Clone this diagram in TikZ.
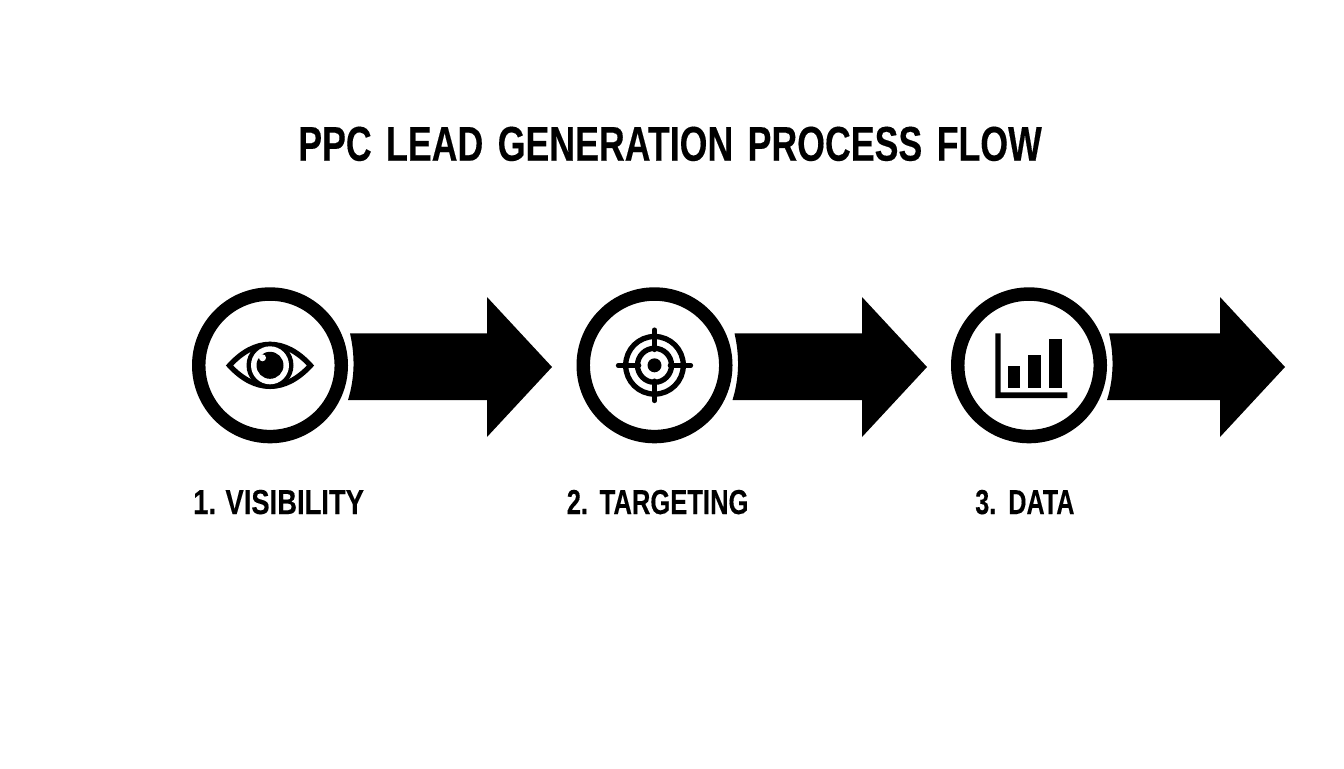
\documentclass[tikz,border=0pt]{standalone}
\usepackage{fontspec}
\usetikzlibrary{calc}
\setmainfont{Liberation Sans}
\newfontfamily\ftitle[FakeStretch=0.732,WordSpace=1.45,FakeBold=0.25,UprightFont=* Bold]{Liberation Sans}
\newfontfamily\fone[FakeStretch=0.79,WordSpace=0.9,FakeBold=0.2,UprightFont=* Bold]{Liberation Sans}
\newfontfamily\ftwo[FakeStretch=0.738,WordSpace=1.3,FakeBold=0.2,UprightFont=* Bold]{Liberation Sans}
\newfontfamily\fthree[FakeStretch=0.725,WordSpace=1.4,FakeBold=0.2,UprightFont=* Bold]{Liberation Sans}
\tikzset{
  ring/.style={circle,draw=black,fill=white,line width=10.1pt,minimum size=106.9pt,inner sep=0pt},
  titletext/.style={anchor=base west,inner sep=0pt,text=black,font=\ftitle\fontsize{36.6pt}{40pt}\selectfont},
  steplabel/.style={anchor=base west,inner sep=0pt,text=black},
  labelsize/.style={font=#1\fontsize{26pt}{30pt}\selectfont},
  cross/.style={line width=3.5pt,line cap=round},
  hair/.style={draw=black,line width=4pt}
}
\newcommand{\bigarrow}[3]{%
  \fill[black] ($(#1)+(80,-32)$) .. controls ($(#1)+(85,-10)$) and ($(#1)+(85,12)$) .. ($(#1)+(78,34.7)$)
    -- (#2,400) -- (#2,437) -- (#3) -- (#2,297) -- (#2,333.3) -- cycle;}
\begin{document}
\begin{tikzpicture}[x=0.75pt,y=-0.75pt]
\useasboundingbox (0,0) rectangle (1344,768);
\fill[white] (0,0) rectangle (1344,768);

\node[titletext] (title) at (298,160.7) {PPC LEAD GENERATION PROCESS FLOW};

% step circles
\node[ring] (c1) at (270,365.3) {};
\node[ring] (c2) at (654.5,365.3) {};
\node[ring] (c3) at (1029,365.3) {};

% arrows
\coordinate (t1) at (552,367);
\coordinate (t2) at (927,367);
\coordinate (t3) at (1285,367);
\bigarrow{c1}{487}{t1}
\bigarrow{c2}{862}{t2}
\bigarrow{c3}{1220}{t3}

% eye icon
\draw[black,fill=white,line width=4pt,miter limit=10]
  ($(c1)+(-40.5,0.2)$) .. controls ($(c1)+(-15,-28)$) and ($(c1)+(15,-28)$) .. ($(c1)+(40.5,0.2)$)
  .. controls ($(c1)+(15,28)$) and ($(c1)+(-15,28)$) .. cycle;
\fill[black] (c1) circle (23.5);
\fill[white] (c1) circle (19);
\fill[black] (c1) circle (13.5);
\fill[white] ($(c1)+(-7.5,-7.5)$) circle (3.5);

% target icon
\draw[hair] (c2) circle (28.8);
\draw[hair] (c2) circle (17);
\fill[black] (c2) circle (7);
\draw[cross] ($(c2)+(-36.3,0)$) -- ($(c2)+(-15.5,0)$);
\draw[cross] ($(c2)+(15.5,0)$) -- ($(c2)+(36.3,0)$);
\draw[cross] ($(c2)+(0,-35.5)$) -- ($(c2)+(0,-15.5)$);
\draw[cross] ($(c2)+(0,15.5)$) -- ($(c2)+(0,35.5)$);

% chart icon
\fill[black] (995.3,333.3) -- (1000.7,333.3) -- (1000.7,392.3) -- (1067.3,392.3) -- (1067.3,398) -- (995.3,398) -- cycle;
\fill[black] (1007.7,365.7) rectangle (1020.3,388.3);
\fill[black] (1028.3,354.7) rectangle (1041,388.3);
\fill[black] (1048.7,339) rectangle (1061.7,388.3);

% labels
\node[steplabel,labelsize=\fone] (l1) at (193,514) {1. VISIBILITY};
\node[steplabel,labelsize=\ftwo] (l2) at (566.5,514) {2. TARGETING};
\node[steplabel,labelsize=\fthree] (l3) at (975,514) {3. DATA};
\end{tikzpicture}
\end{document}
